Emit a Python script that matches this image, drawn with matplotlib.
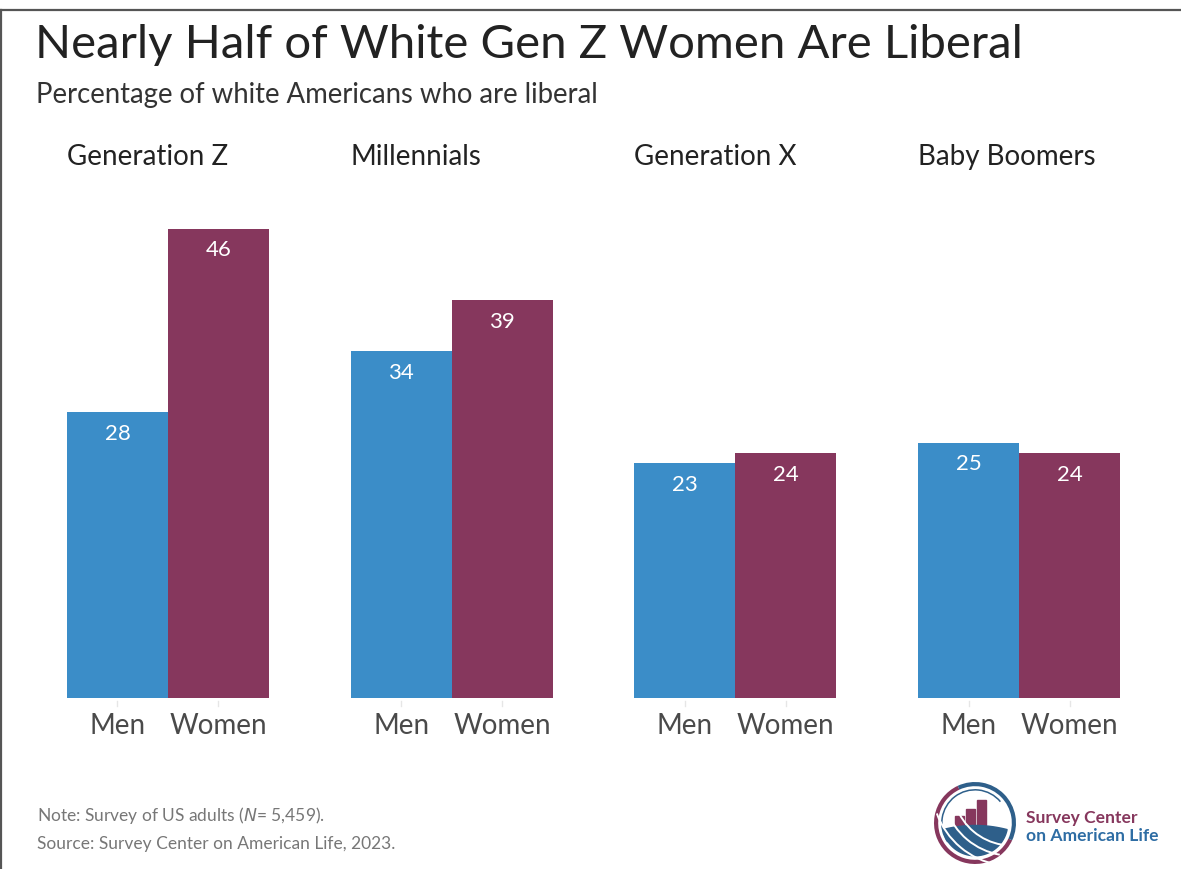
import numpy as np
import matplotlib
matplotlib.use('Agg')
import matplotlib.pyplot as plt
from matplotlib.patches import Arc, Rectangle, Polygon

plt.rcParams['font.family'] = ['Lato', 'DejaVu Sans']

generations = ['Generation Z', 'Millennials', 'Generation X', 'Baby Boomers']
sexes = ['Men', 'Women']
men = [28, 34, 23, 25]
women = [46, 39, 24, 24]

BLUE = '#3b8dc8'
MAROON = '#86375d'
NAVY = '#2e5f8a'

W, H = 1181, 869
fig = plt.figure(figsize=(W / 100, H / 100), dpi=100)

def fx(px): return px / W
def fy(py): return 1 - py / H

# frame line along top and left edge
fig.add_artist(plt.Line2D([fx(1.5), 1], [fy(10), fy(10)], color='#555555', lw=1.6))
fig.add_artist(plt.Line2D([fx(1.5), fx(1.5)], [fy(10), 0], color='#555555', lw=1.6))

fig.text(fx(35), fy(45), 'Nearly Half of White Gen Z Women Are Liberal', fontsize=34,
         color='#222222', va='center', ha='left')
fig.text(fx(36), fy(95), 'Percentage of white Americans who are liberal', fontsize=19.8,
         color='#333333', va='center', ha='left')

# bars: one axes, groups spaced 2.81 bar widths apart
ax = fig.add_axes([fx(67), fy(698), fx(1120) - fx(67), fy(188) - fy(698)])
gap = 2.812
for i, g in enumerate(generations):
    x0 = i * gap
    ax.bar(x0 + 0.5, men[i], width=1.0, color=BLUE)
    ax.bar(x0 + 1.5, women[i], width=1.0, color=MAROON)
    for xc, v in [(x0 + 0.5, men[i]), (x0 + 1.5, women[i])]:
        ax.text(xc, v - 2.1, str(v), ha='center', va='center', color='white', fontsize=16)
        ax.plot([xc, xc], [-0.3, -0.8], color='#e6e6e6', lw=1, clip_on=False)
    ax.text(x0, 53.0, g, ha='left', va='center', fontsize=20, color='#222222')
    for j, s in enumerate(sexes):
        ax.text(x0 + 0.5 + j, -2.75, s, ha='center', va='center', fontsize=20,
                color='#4a4a4a')
ax.set_xlim(0, 3 * gap + 2)
ax.set_ylim(0, 50)
ax.axis('off')

fig.text(fx(37), fy(816), 'Note: Survey of US adults ($\\mathit{N}$= 5,459).', fontsize=12.5,
         color='#777777', va='center')
fig.text(fx(37), fy(844), 'Source: Survey Center on American Life, 2023.', fontsize=12.5,
         color='#777777', va='center')

# logo
lg = fig.add_axes([fx(932), fy(866), fx(86), fy(780) - fy(866)])
lg.set_xlim(-1.05, 1.05)
lg.set_ylim(-1.05, 1.05)
lg.set_aspect('equal')
lg.axis('off')
lg.add_patch(Arc((0, 0), 1.9, 1.9, theta1=115, theta2=335, color=MAROON, lw=3.0))
lg.add_patch(Arc((0, 0), 1.9, 1.9, theta1=-25, theta2=115, color=NAVY, lw=3.0))
lg.add_patch(Arc((0, 0), 1.62, 1.62, theta1=40, theta2=215, color=NAVY, lw=1.1))
for bx, bh in [(-0.5, 0.22), (-0.22, 0.38), (0.06, 0.62)]:
    lg.add_patch(Rectangle((bx, -0.05), 0.22, bh, color=MAROON))
# rolling field in the lower half
t = np.linspace(np.radians(192), np.radians(348), 60)
rim = np.column_stack([0.8 * np.cos(t), 0.8 * np.sin(t)])
hx = np.linspace(0.78, -0.78, 40)
hill = np.column_stack([hx, -0.16 + 0.1 * (1 - (hx / 0.78) ** 2)])
lg.add_patch(Polygon(np.vstack([rim, hill]), closed=True, color=NAVY))
for c, r in [((0.9, 0.9), 1.45), ((0.9, 0.9), 1.7), ((0.9, 0.9), 1.95)]:
    lg.add_patch(Arc(c, 2 * r, 2 * r, theta1=200, theta2=260, color='white', lw=1.4))

fig.text(fx(1026), fy(818), 'Survey Center', fontsize=12.6, fontweight='bold', color=MAROON, va='center')
fig.text(fx(1026), fy(836), 'on American Life', fontsize=12.6, fontweight='bold', color='#2e6da4', va='center')

fig.savefig('out.png', dpi=100, facecolor='white')
